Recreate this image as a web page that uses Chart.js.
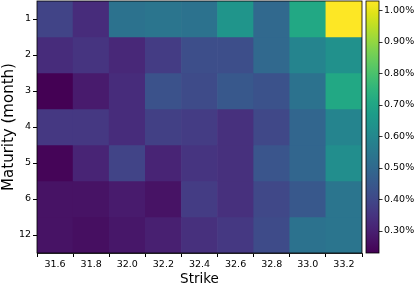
<!DOCTYPE html>
<html><head><meta charset="utf-8">
<script src="https://cdn.jsdelivr.net/npm/chart.js@4/dist/chart.umd.min.js"></script>
<style>html,body{margin:0;padding:0;background:#fff}</style>
</head><body><canvas id="c" width="415" height="288" style="display:block;width:415px;height:288px"></canvas>
<script>
const strikes = ['31.6','31.8','32.0','32.2','32.4','32.6','32.8','33.0','33.2'];
const maturities = ['1','2','3','4','5','6','12'];
const volM1  = [0.39,0.33,0.53,0.54,0.53,0.645,0.50,0.71,1.03];
const volM2  = [0.33,0.35,0.32,0.37,0.42,0.42,0.50,0.59,0.63];
const volM3  = [0.23,0.29,0.33,0.43,0.41,0.45,0.43,0.53,0.71];
const volM4  = [0.36,0.36,0.33,0.38,0.37,0.34,0.40,0.49,0.59];
const volM5  = [0.24,0.31,0.39,0.31,0.35,0.34,0.44,0.49,0.62];
const volM6  = [0.27,0.27,0.29,0.27,0.37,0.34,0.40,0.45,0.54];
const volM12 = [0.27,0.26,0.28,0.30,0.34,0.36,0.41,0.53,0.54];
const volRows = [volM1, volM2, volM3, volM4, volM5, volM6, volM12];
const cbMin = 0.23, cbMax = 1.03;
const cbTicks = [0.3,0.4,0.5,0.6,0.7,0.8,0.9,1.0];

const viridis = ['#440154','#471365','#482475','#463480','#414487','#3b528b','#355f8d','#2f6c8e','#2a788e','#25848e','#21918c','#1e9c89','#22a884','#2fb47c','#44bf70','#5ec962','#7ad151','#9bd93c','#bddf26','#dfe318','#fde725'];
function hex2rgb(h){return [parseInt(h.slice(1,3),16),parseInt(h.slice(3,5),16),parseInt(h.slice(5,7),16)];}
function cmap(t){
  t = Math.max(0, Math.min(1, t));
  const n = viridis.length - 1, f = t * n, i = Math.min(Math.floor(f), n - 1), u = f - i;
  const a = hex2rgb(viridis[i]), b = hex2rgb(viridis[i+1]);
  return 'rgb(' + a.map((v,k)=>Math.round(v + (b[k]-v)*u)).join(',') + ')';
}

const FONT = 'DejaVu Sans';
const datasets = volRows.map((row, i) => ({
  data: strikes.map(() => [i + 0.5, i + 1.5]),
  backgroundColor: row.map(v => cmap((v - cbMin) / (cbMax - cbMin))),
  borderWidth: 0,
  grouped: false,
  barPercentage: 1.0,
  categoryPercentage: 1.0
}));

const framePlugin = {
  id: 'frameAndColorbar',
  afterDraw(chart) {
    const ctx = chart.ctx, ca = chart.chartArea, s = chart.scales.cb;
    ctx.save();
    ctx.strokeStyle = '#000'; ctx.lineWidth = 0.8;
    ctx.strokeRect(ca.left, ca.top, ca.right - ca.left, ca.bottom - ca.top);
    const x0 = ca.right + 4, w = 13;
    const top = s.getPixelForValue(cbMax), bot = s.getPixelForValue(cbMin);
    const g = ctx.createLinearGradient(0, bot, 0, top);
    viridis.forEach((c, i) => g.addColorStop(i / (viridis.length - 1), c));
    ctx.fillStyle = g;
    ctx.fillRect(x0, top, w, bot - top);
    ctx.strokeRect(x0, top, w, bot - top);
    cbTicks.forEach(v => {
      const y = Math.round(s.getPixelForValue(v)) + 0.5;
      ctx.beginPath(); ctx.moveTo(x0 + w, y); ctx.lineTo(x0 + w + 3.5, y); ctx.stroke();
    });
    ctx.restore();
  }
};

function vFit(width) {
  return s => { s.width = width; s.paddingTop = 0; s.paddingBottom = 0; };
}

new Chart(document.getElementById('c'), {
  type: 'bar',
  data: { labels: strikes, datasets },
  options: {
    responsive: false,
    animation: false,
    layout: { padding: { top: 1, left: 0, right: 0, bottom: 0 }, autoPadding: false },
    plugins: { legend: { display: false }, tooltip: { enabled: false } },
    scales: {
      x: {
        type: 'category',
        grid: { drawOnChartArea: false, drawTicks: true, tickLength: 4, color: '#000' },
        border: { display: true, color: '#000', width: 0.8 },
        ticks: { color: '#000', font: { family: FONT, size: 9.5 }, padding: 2, maxRotation: 0 },
        title: { display: true, text: 'Strike', color: '#000', font: { family: FONT, size: 13.5 }, padding: { top: 1, bottom: 0 } },
        afterFit(s) { s.height = 35; s.paddingLeft = 0; s.paddingRight = 0; }
      },
      y: {
        type: 'linear',
        reverse: true,
        min: 0.5, max: 7.5,
        afterBuildTicks(s) { s.ticks = maturities.map((m, i) => ({ value: i + 1 })); },
        grid: { drawOnChartArea: false, drawTicks: true, tickLength: 4, color: '#000' },
        border: { display: true, color: '#000', width: 0.8 },
        ticks: { color: '#000', font: { family: FONT, size: 9.5 }, padding: 2, callback: v => maturities[v - 1] },
        title: { display: true, text: 'Maturity (month)', color: '#000', font: { family: FONT, size: 15 }, padding: { top: 0, bottom: 2 } },
        afterFit: vFit(37)
      },
      cb: {
        type: 'linear',
        position: 'right',
        min: cbMin, max: cbMax,
        afterBuildTicks(s) { s.ticks = cbTicks.map(v => ({ value: v })); },
        grid: { display: false, drawTicks: false, drawOnChartArea: false },
        border: { display: false },
        ticks: { color: '#000', font: { family: FONT, size: 9.5 }, padding: 22, callback: v => v.toFixed(2) + '%' },
        afterFit: vFit(53)
      }
    }
  },
  plugins: [framePlugin]
});
</script>
</body></html>
